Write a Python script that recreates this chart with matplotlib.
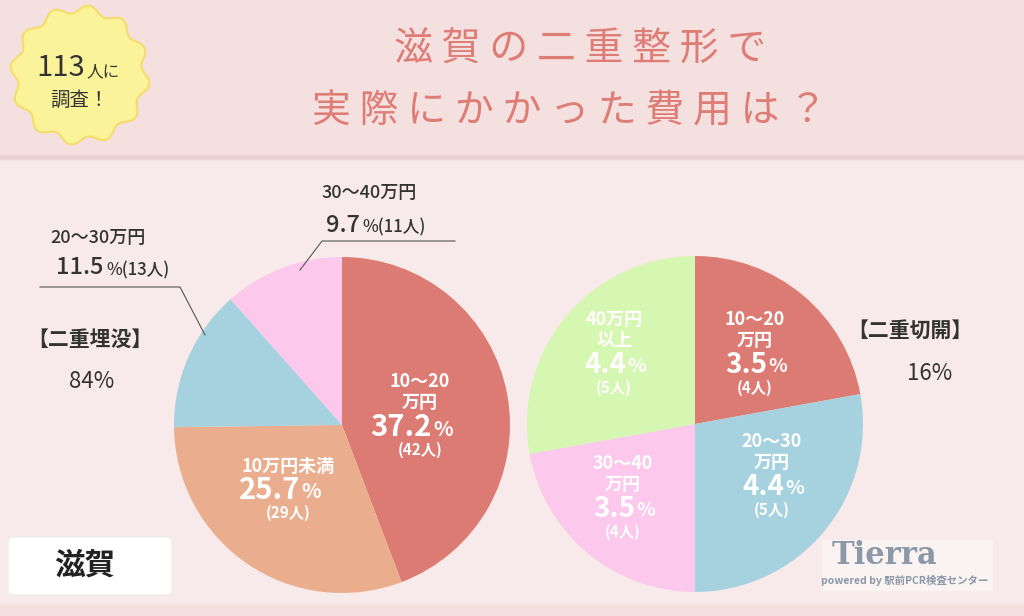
import matplotlib
matplotlib.use("Agg")
import matplotlib.pyplot as plt
import numpy as np
from matplotlib.patches import Rectangle, Polygon, FancyBboxPatch

plt.rcParams['font.family'] = 'Noto Sans CJK JP'

left_labels = ["10〜20\n万円", "10万円未満", "20〜30万円", "30〜40万円"]
left_pct = [37.2, 25.7, 11.5, 9.7]
left_n = [42, 29, 13, 11]
left_colors = ["#dc7b73", "#eaae8e", "#a6d2e0", "#fcc8ec"]

right_labels = ["10〜20\n万円", "20〜30\n万円", "30〜40\n万円", "40万円\n以上"]
right_pct = [3.5, 4.4, 3.5, 4.4]
right_n = [4, 5, 4, 5]
right_colors = ["#dc7b73", "#a6d2e0", "#fcc8ec", "#d6f7b2"]

W, H = 1024, 616
fig = plt.figure(figsize=(W/100, H/100), dpi=100)
bg = fig.add_axes([0, 0, 1, 1], zorder=0)
bg.set_xlim(0, W); bg.set_ylim(H, 0); bg.axis('off')
bg.add_patch(Rectangle((0, 0), W, H, color="#f8eaea", zorder=0))
bg.add_patch(Rectangle((0, 0), W, 156, color="#f5e0e0", zorder=1))
bg.add_patch(Rectangle((0, 155), W, 4, color="#ecd2d2", zorder=1))
bg.add_patch(Rectangle((0, 604), W, 12, color="#f5e0e0", zorder=1))

# badge
t = np.linspace(0, 2*np.pi, 400)
r = 66 + 4*np.sin(12*t)
bg.add_patch(Polygon(np.c_[80 + r*np.cos(t), 75 + r*np.sin(t)], closed=True,
                     facecolor="#fbf39a", edgecolor="#f6dc6a", lw=1.5, zorder=2))
bg.text(85, 68, "113", fontsize=21, color="#333333", ha='right', va='center', zorder=3)
bg.text(86, 72, "人に", fontsize=12, color="#333333", ha='left', va='center', zorder=3)
bg.text(80, 100, "調査！", fontsize=14, color="#333333", ha='center', va='center', zorder=3)

tc = "#de7d76"
bg.text(580, 50, "滋 賀 の 二 重 整 形 で", fontsize=28, color=tc, ha='center', va='center')
bg.text(570, 111, "実 際 に か か っ た 費 用 は ？", fontsize=28, color=tc, ha='center', va='center')

dark = "#333333"
bg.text(90, 339, "【二重埋没】", fontsize=15, color=dark, ha='center', va='center', weight='bold')
bg.text(92, 381, "84%", fontsize=16, color=dark, ha='center', va='center')
bg.text(910, 330, "【二重切開】", fontsize=15, color=dark, ha='center', va='center', weight='bold')
bg.text(930, 373, "16%", fontsize=16, color=dark, ha='center', va='center')

bg.add_patch(FancyBboxPatch((8, 537), 164, 58, boxstyle="round,pad=0,rounding_size=6",
                            facecolor="white", edgecolor="#eeeeee", zorder=2))
bg.text(85, 566, "滋賀", fontsize=22, color="#222222", ha='center', va='center', zorder=3,
        weight='bold')

bg.add_patch(Rectangle((822, 540), 170, 50, color="#fbf2f2", zorder=2))
bg.text(885, 555, "Tierra", fontsize=22, color="#8a98a8", ha='center', va='center',
        family='DejaVu Serif', weight='bold', zorder=3)
bg.text(905, 580, "powered by 駅前PCR検査センター", fontsize=7.5, color="#8a98a8",
        ha='center', va='center', weight='bold', zorder=3)

def pie_ax(cx, cy, rad):
    return fig.add_axes([(cx-rad)/W, (H-cy-rad)/H, 2*rad/W, 2*rad/H], zorder=1)

axl = pie_ax(342, 425, 168)
axl.pie(left_pct, colors=left_colors, startangle=90, counterclock=False,
        wedgeprops=dict(linewidth=0))
axl.set_xlim(-1, 1); axl.set_ylim(-1, 1)
axr = pie_ax(695, 424, 168)
axr.pie(right_pct, colors=right_colors, startangle=90, counterclock=False,
        wedgeprops=dict(linewidth=0))
axr.set_xlim(-1, 1); axr.set_ylim(-1, 1)

ov = fig.add_axes([0, 0, 1, 1], zorder=2)
ov.set_xlim(0, W); ov.set_ylim(H, 0); ov.axis('off'); ov.patch.set_alpha(0)

def lab(x, y, name, pct, n, color, big=20, name_fs=13):
    ov.text(x, y, name, fontsize=name_fs, color=color, ha='center', va='center',
            weight='bold', linespacing=1.1)
    nl = name.count("\n")
    yy = y + 24 + nl*11
    ov.text(x+12, yy, f"{pct}", fontsize=big, color=color, ha='right', va='center', weight='bold')
    ov.text(x+13, yy+2, "%", fontsize=big*0.7, color=color, ha='left', va='center', weight='bold')
    ov.text(x, yy + 23, f"({n}人)", fontsize=11, color=color, ha='center', va='center', weight='bold')

w = "white"
lab(420, 392, left_labels[0], left_pct[0], left_n[0], w, big=21)
lab(288, 466, left_labels[1], left_pct[1], left_n[1], w, big=21)
lab(755, 330, right_labels[0], right_pct[0], right_n[0], w)
lab(772, 452, right_labels[1], right_pct[1], right_n[1], w)
lab(623, 474, right_labels[2], right_pct[2], right_n[2], w)
lab(614, 330, right_labels[3], right_pct[3], right_n[3], w)

# outside labels
ov.text(50, 238, left_labels[2], fontsize=13, color=dark, ha='left', va='center', weight='medium')
ov.text(104, 268, f"{left_pct[2]}", fontsize=17, color=dark, ha='right', va='center', weight='medium')
ov.text(106, 270, f"%({left_n[2]}人)", fontsize=12, color=dark, ha='left', va='center', weight='medium')
ov.plot([40, 180, 205], [287, 287, 335], color="#555555", lw=0.8)
ov.text(322, 193, left_labels[3], fontsize=13, color=dark, ha='left', va='center', weight='medium')
ov.text(360, 225, f"{left_pct[3]}", fontsize=17, color=dark, ha='right', va='center', weight='medium')
ov.text(362, 227, f"%({left_n[3]}人)", fontsize=12, color=dark, ha='left', va='center', weight='medium')
ov.plot([455, 322, 300], [241, 241, 270], color="#555555", lw=0.8)

fig.savefig("out.png", dpi=100)
